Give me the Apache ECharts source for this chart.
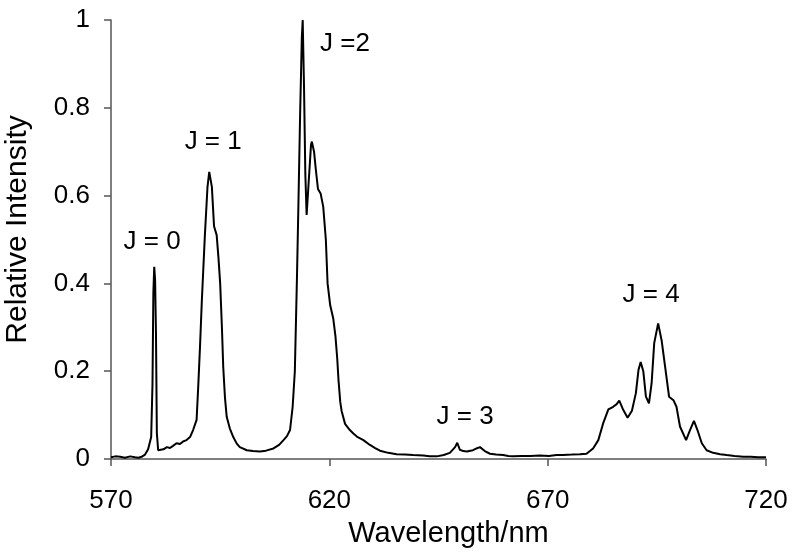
<!DOCTYPE html>
<html>
<head>
    <meta charset="utf-8">
    <title>Emission spectrum</title>
    <script src="https://cdn.jsdelivr.net/npm/echarts@6/dist/echarts.min.js"></script>
    <style>
        html, body { margin: 0; padding: 0; background: #fff; }
    </style>
</head>
<body>
<div id="main" style="width:795px;height:557px;"></div>
<script type="text/javascript">
    // wavelength (nm) and relative intensity
    var wavelength = [
        570.0, 571.0, 572.1, 573.2, 574.4, 575.5, 576.3, 577.0, 577.8, 578.5, 579.2, 579.5, 579.7, 579.9, 580.1, 580.3, 580.5, 580.8,
        581.2, 582.0, 582.8, 583.5, 584.2, 585.0, 585.8, 586.5, 587.3, 588.1, 588.8, 589.6, 590.0, 590.4, 590.8, 591.5, 592.1, 592.5,
        593.1, 593.6, 594.2, 594.6, 595.0, 595.4, 595.7, 596.1, 596.5, 597.2, 598.0, 598.8, 599.5, 601.1, 602.5, 604.1, 605.5, 607.2,
        608.5, 609.5, 610.3, 611.0, 611.6, 612.1, 612.6, 612.9, 613.3, 613.7, 613.9, 614.2, 614.5, 614.8, 615.2, 615.8, 616.0, 616.5,
        616.9, 617.4, 618.0, 618.6, 619.2, 619.6, 620.2, 620.9, 621.4, 621.8, 622.1, 622.5, 622.8, 623.6, 624.7, 625.5, 626.3, 627.8,
        629.3, 630.5, 631.6, 633.5, 635.4, 637.3, 639.2, 641.5, 643.0, 644.6, 646.2, 647.6, 648.8, 649.3, 649.9, 650.7, 651.5, 652.3,
        652.9, 653.7, 654.5, 655.6, 656.8, 658.2, 659.8, 661.0, 662.1, 664.0, 666.0, 668.2, 670.3, 672.0, 673.5, 675.5, 677.4, 678.9,
        680.4, 681.6, 682.7, 683.9, 685.0, 685.8, 686.4, 687.3, 688.3, 689.3, 690.2, 690.8, 691.3, 691.9, 692.5, 693.2, 693.8, 694.4,
        695.3, 696.1, 696.9, 697.8, 698.8, 699.5, 700.3, 701.7, 702.6, 703.5, 704.3, 705.3, 706.4, 707.9, 709.5, 711.0, 712.8, 714.8,
        716.5, 718.2, 720.0
    ];
    var intensity = [
        0.004, 0.006, 0.005, 0.003, 0.006, 0.004, 0.003, 0.005, 0.010, 0.022, 0.050, 0.170, 0.378, 0.438, 0.408, 0.287, 0.059, 0.020,
        0.017, 0.022, 0.027, 0.025, 0.030, 0.036, 0.034, 0.040, 0.043, 0.050, 0.066, 0.089, 0.170, 0.260, 0.360, 0.510, 0.620, 0.654,
        0.620, 0.530, 0.510, 0.460, 0.400, 0.300, 0.210, 0.140, 0.096, 0.070, 0.050, 0.035, 0.027, 0.020, 0.018, 0.017, 0.019, 0.024,
        0.032, 0.043, 0.052, 0.066, 0.119, 0.200, 0.420, 0.570, 0.780, 0.960, 1.000, 0.850, 0.650, 0.556, 0.620, 0.715, 0.723, 0.700,
        0.660, 0.615, 0.605, 0.575, 0.500, 0.400, 0.350, 0.320, 0.280, 0.230, 0.180, 0.130, 0.110, 0.080, 0.066, 0.058, 0.051, 0.043,
        0.032, 0.025, 0.019, 0.014, 0.011, 0.010, 0.009, 0.008, 0.006, 0.006, 0.009, 0.014, 0.027, 0.037, 0.021, 0.018, 0.017, 0.019,
        0.020, 0.024, 0.027, 0.018, 0.012, 0.010, 0.009, 0.007, 0.006, 0.007, 0.007, 0.008, 0.007, 0.009, 0.009, 0.010, 0.011, 0.012,
        0.024, 0.043, 0.081, 0.113, 0.119, 0.125, 0.133, 0.112, 0.094, 0.110, 0.150, 0.203, 0.221, 0.200, 0.142, 0.127, 0.172, 0.264,
        0.309, 0.270, 0.210, 0.142, 0.134, 0.119, 0.074, 0.043, 0.066, 0.087, 0.066, 0.036, 0.020, 0.014, 0.011, 0.009, 0.007, 0.005,
        0.005, 0.004, 0.004
    ];
    // peak labels and where they sit
    var peakLabels = ['J = 0', 'J = 1', 'J =2', 'J = 3', 'J = 4'];
    var labelX = [579.4, 593.4, 623.6, 651.1, 693.7];
    var labelY = [0.494, 0.722, 0.945, 0.096, 0.374];

    var myChart = echarts.init(document.getElementById('main'));

    var lineData = [];
    for (var i = 0; i < wavelength.length; i++) {
        lineData.push([wavelength[i], intensity[i]]);
    }
    var labelData = [];
    for (var j = 0; j < peakLabels.length; j++) {
        labelData.push({ value: [labelX[j], labelY[j]], name: peakLabels[j] });
    }

    var font = 'Liberation Sans, Arial, sans-serif';
    var axisColor = '#555';

    var option = {
        animation: false,
        backgroundColor: '#fff',
        grid: { left: 111, right: 29, top: 20, bottom: 98, containLabel: false, outerBoundsMode: 'none' },
        xAxis: {
            type: 'value',
            min: 570,
            max: 720,
            interval: 50,
            name: 'Wavelength/nm',
            nameLocation: 'middle',
            nameGap: 60,
            nameTextStyle: { fontFamily: font, fontSize: 29, color: '#000', padding: [0, 0, 0, 20] },
            axisLine: { lineStyle: { color: axisColor, width: 1.5 } },
            axisTick: { show: true, length: 7, lineStyle: { color: axisColor, width: 1.5 } },
            axisLabel: { margin: 29, fontFamily: font, fontSize: 26, color: '#000' },
            splitLine: { show: false }
        },
        yAxis: {
            type: 'value',
            min: 0,
            max: 1,
            interval: 0.2,
            name: 'Relative Intensity',
            nameLocation: 'middle',
            nameGap: 78,
            nameTextStyle: { fontFamily: font, fontSize: 30, color: '#000', padding: [0, 0, 0, 20] },
            axisLine: { show: true, lineStyle: { color: axisColor, width: 1.5 } },
            axisTick: { show: true, length: 7, lineStyle: { color: axisColor, width: 1.5 } },
            axisLabel: { margin: 21, fontFamily: font, fontSize: 26, color: '#000' },
            splitLine: { show: false }
        },
        series: [
            {
                type: 'line',
                data: lineData,
                showSymbol: false,
                symbol: 'none',
                lineStyle: { color: '#000', width: 2 },
                z: 3
            },
            {
                type: 'scatter',
                data: labelData,
                symbolSize: 0,
                silent: true,
                itemStyle: { opacity: 1, color: '#000' },
                label: {
                    show: true,
                    position: 'inside',
                    formatter: '{b}',
                    fontFamily: font,
                    fontSize: 26,
                    color: '#000',
                    opacity: 1
                }
            }
        ]
    };

    myChart.setOption(option);
</script>
</body>
</html>
